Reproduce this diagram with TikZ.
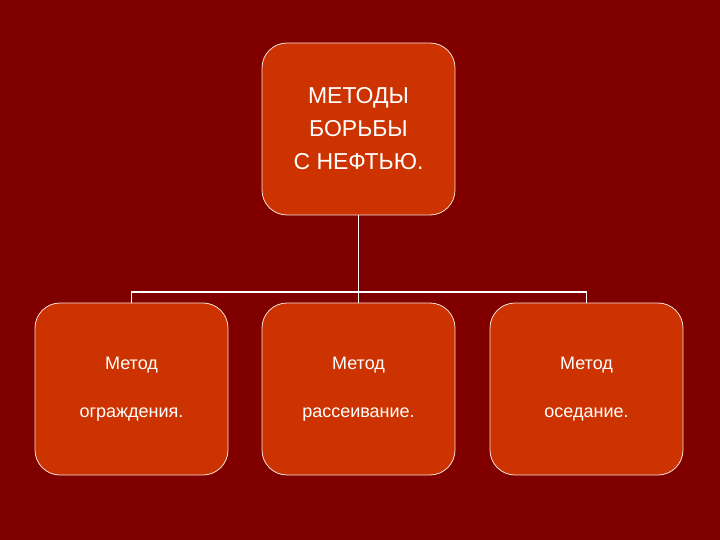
\documentclass[tikz,border=0pt]{standalone}
\usepackage{fontspec}
\setmainfont{Liberation Sans}
\definecolor{bg}{HTML}{800000}
\definecolor{boxfill}{HTML}{CC3300}
\begin{document}
\begin{tikzpicture}[x=1pt,y=-1pt,
  box/.style={draw=white!85!boxfill,line width=0.8pt,fill=boxfill,rounded corners=25pt,minimum width=193pt,minimum height=172pt,text=white,inner sep=0pt},
  conn/.style={draw=white,line width=1.6pt}]
\fill[bg] (0,0) rectangle (720,540);
\useasboundingbox (0,0) rectangle (720,540);
\node[box,font=\fontsize{23}{33}\selectfont,align=center] (top) at (358.5,129) {МЕТОДЫ\\БОРЬБЫ\\С НЕФТЬЮ.};
\node[box,font=\fontsize{18}{48}\selectfont,align=center] (b1) at (131.5,389) {Метод\\ограждения.};
\node[box,font=\fontsize{18}{48}\selectfont,align=center] (b2) at (358.5,389) {Метод\\рассеивание.};
\node[box,font=\fontsize{18}{48}\selectfont,align=center] (b3) at (586.5,389) {Метод\\оседание.};
\coordinate (j) at (358.5,292);
\draw[conn] (top.south) -- (j);
\draw[conn] (b1.north) -- (b1.north |- j) -- (b3.north |- j) -- (b3.north);
\draw[conn] (j) -- (b2.north);
\end{tikzpicture}
\end{document}
